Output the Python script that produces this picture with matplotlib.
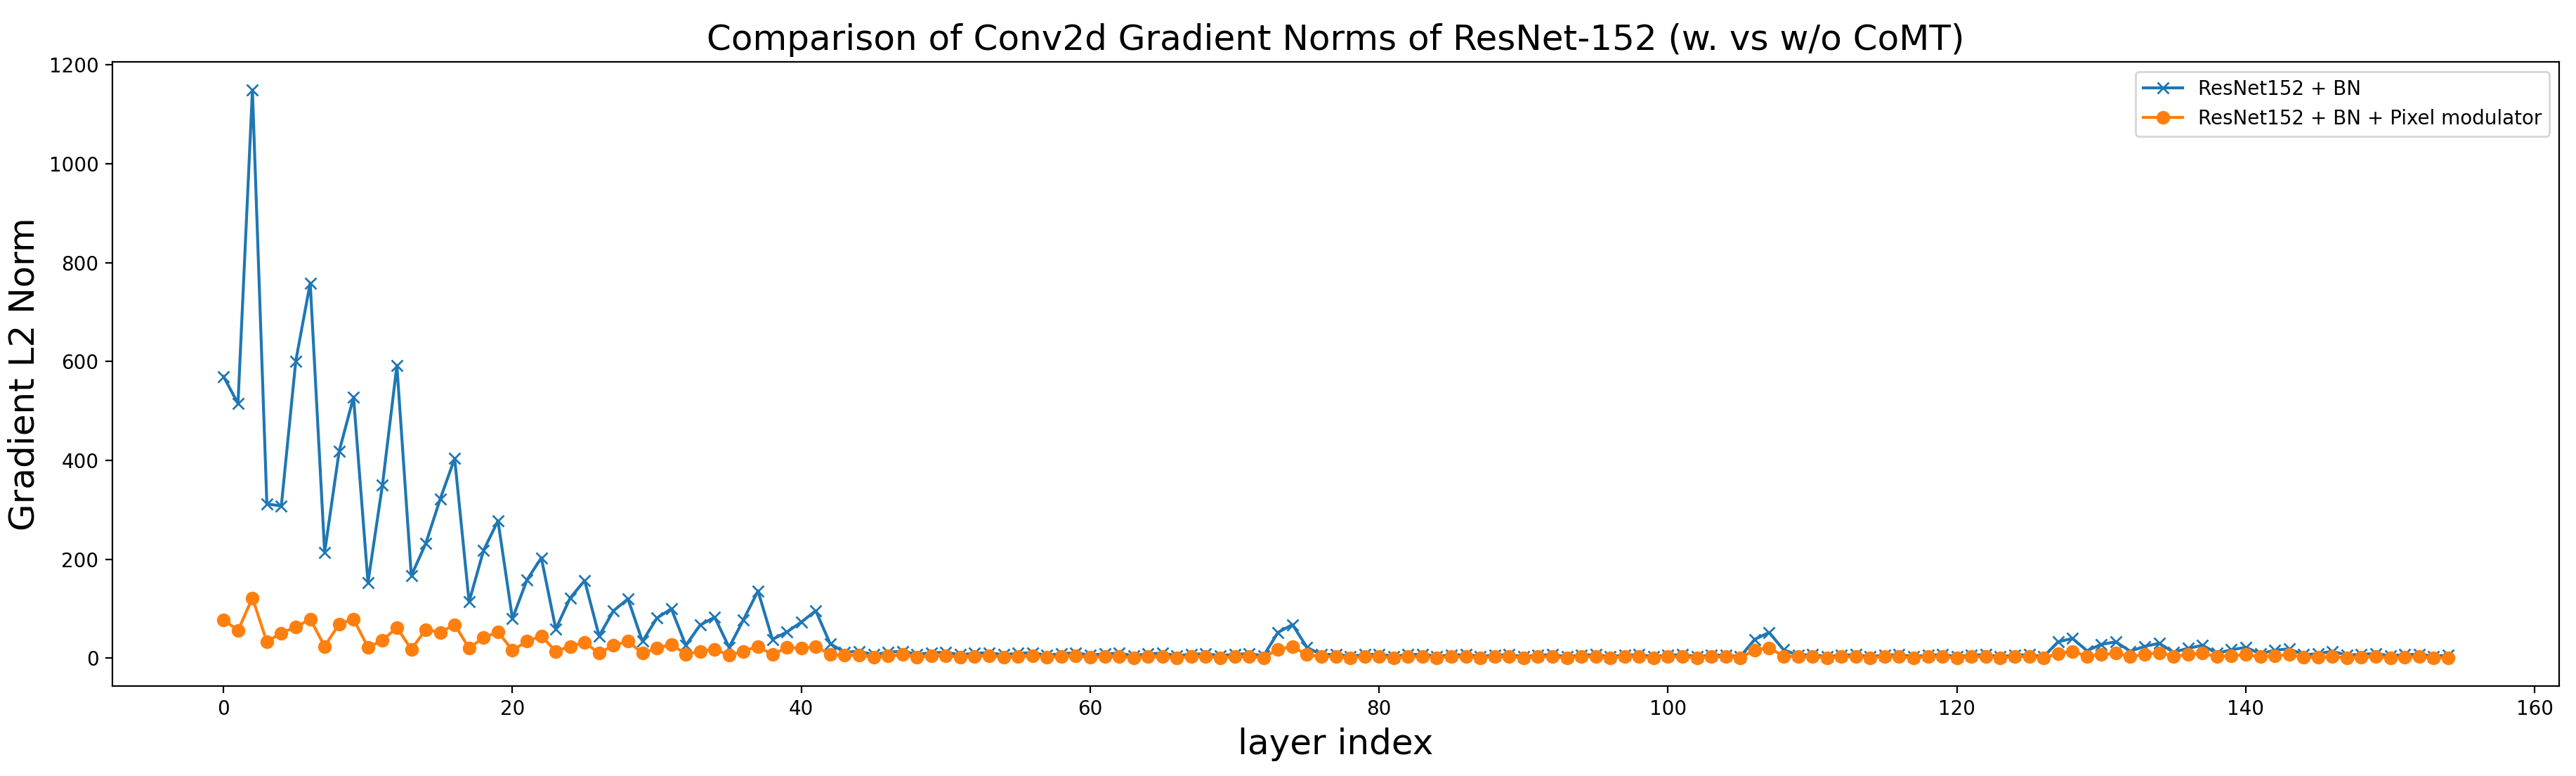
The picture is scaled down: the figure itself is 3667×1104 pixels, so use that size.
import matplotlib
matplotlib.use("Agg")
import matplotlib.pyplot as plt

# gradient L2 norm per conv2d layer
bn = [570, 515, 1149, 312, 308, 601, 759, 214, 418, 528,
      153, 350, 592, 167, 232, 322, 404, 114, 218, 278,
      80, 158, 203, 59, 122, 157, 45, 96, 120, 34,
      81, 100, 26, 67, 83, 22, 78, 136, 38, 53,
      73, 96, 29, 12, 14, 7, 12, 14, 8, 11,
      12, 7, 10, 11, 7, 10, 11, 6, 9, 11,
      6, 9, 10, 5, 9, 10, 5, 8, 9, 5,
      8, 9, 5, 52, 68, 22, 7, 8, 4, 7,
      8, 4, 7, 8, 4, 6, 7, 4, 6, 7,
      3, 6, 7, 3, 6, 7, 3, 6, 7, 3,
      6, 7, 3, 6, 6, 3, 38, 52, 17, 6,
      7, 3, 6, 7, 3, 6, 7, 3, 6, 7,
      3, 6, 7, 3, 6, 7, 3, 33, 40, 15,
      28, 33, 14, 24, 30, 12, 20, 26, 10, 17,
      22, 9, 16, 19, 7, 9, 14, 6, 8, 9,
      5, 7, 8, 4, 6]

bn_pm = [78, 56, 122, 33, 51, 63, 79, 24, 69, 79,
         22, 36, 62, 18, 58, 52, 68, 20, 42, 53,
         16, 34, 45, 14, 24, 32, 10, 26, 34, 10,
         20, 28, 8, 14, 18, 6, 14, 24, 7, 22,
         20, 24, 7, 6, 6, 2, 4.5, 7, 2, 4.5,
         5.5, 2, 4, 4.5, 2, 4, 4.5, 2, 3.5, 4.5,
         2, 3, 3.5, 1, 3, 3.5, 1, 3, 3.5, 1,
         3, 3.5, 1, 18, 23, 7, 3, 3.5, 1, 3,
         3, 1, 3, 3, 1, 3, 3, 1, 3, 3,
         1, 3, 3, 1, 3, 3, 1, 3, 3, 1,
         3, 3, 1, 3, 3, 1, 16, 21, 4, 3,
         3, 1, 3, 3, 1, 3, 3, 1, 3, 3,
         1, 3, 3, 1, 3, 3, 1, 9, 14, 4,
         7, 10, 3, 8, 11, 4, 7, 10, 3, 5,
         7, 3, 5, 7, 2, 2, 3, 1, 2, 3,
         1, 2, 3, 1, 1]

layers = list(range(len(bn)))

fig = plt.figure(figsize=(3667 / 200, 1104 / 200), dpi=200)
ax = fig.add_subplot(111)
fig.subplots_adjust(left=0.0436, right=0.9935, top=0.9203, bottom=0.1159)

ax.plot(layers, bn, marker='x', label='ResNet152 + BN')
ax.plot(layers, bn_pm, marker='o', label='ResNet152 + BN + Pixel modulator')

ax.set_title('Comparison of Conv2d Gradient Norms of ResNet-152 (w. vs w/o CoMT)', fontsize=18)
ax.set_xlabel('layer index', fontsize=18)
ax.set_ylabel('Gradient L2 Norm', fontsize=18)
ax.legend(loc='upper right')

fig.savefig('out.png', dpi=200)
